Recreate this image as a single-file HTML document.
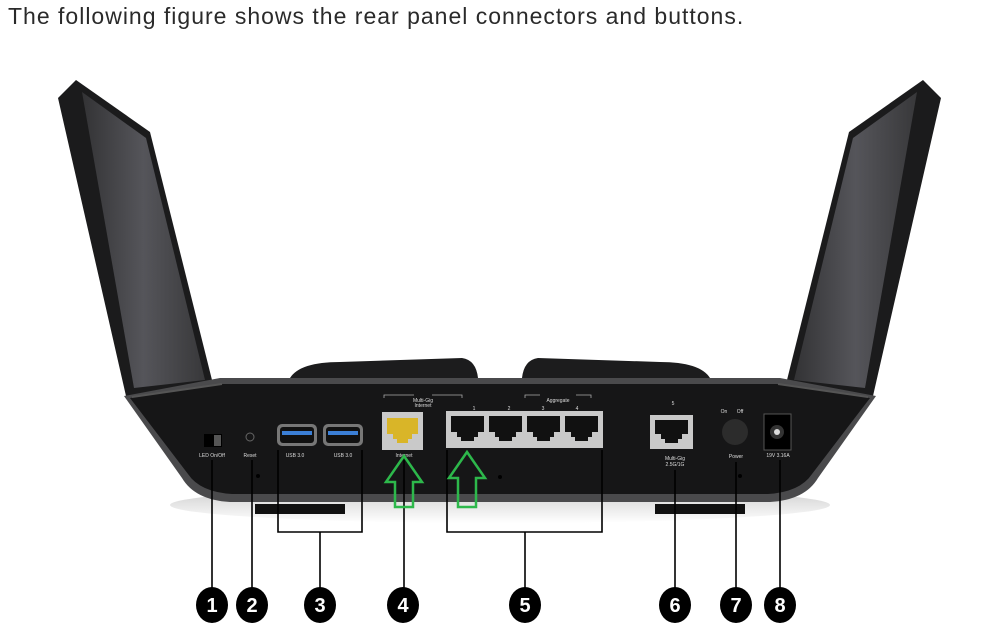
<!DOCTYPE html>
<html><head><meta charset="utf-8"><style>
html,body{margin:0;padding:0;background:#fff;}
body{width:999px;height:637px;overflow:hidden;position:relative;font-family:"Liberation Sans",sans-serif;}
.t{position:absolute;left:8px;top:3px;font-size:23px;letter-spacing:1.0px;color:#2a2a2a;white-space:nowrap;}
svg{position:absolute;left:0;top:0;}
</style></head><body>
<div class="t">The following figure shows the rear panel connectors and buttons.</div>
<svg width="999" height="637" viewBox="0 0 999 637">
<defs>
<linearGradient id="ant" x1="0" y1="0" x2="1" y2="0">
<stop offset="0" stop-color="#333335"/><stop offset="0.5" stop-color="#55555a"/><stop offset="1" stop-color="#38383a"/>
</linearGradient>
<linearGradient id="shadow" x1="0" y1="0" x2="0" y2="1">
<stop offset="0" stop-color="#999"/><stop offset="1" stop-color="#fff"/>
</linearGradient>
</defs>
<ellipse cx="500" cy="505" rx="330" ry="18" fill="url(#shadow)" opacity="0.5"/>
<polygon points="58,98 76,80 150,132 214,388 126,396" fill="#1b1b1c"/>
<polygon points="82,92 146,138 205,380 134,388" fill="url(#ant)"/>
<polygon points="941,98 923,80 849,132 785,388 873,396" fill="#1b1b1c"/>
<polygon points="917,92 853,138 794,380 865,388" fill="url(#ant)"/>
<path d="M290,378 Q300,362 340,362 L462,358 Q476,360 478,378 Z" fill="#1c1c1d"/>
<path d="M522,378 Q524,360 538,358 L660,362 Q700,362 710,378 Z" fill="#1c1c1d"/>
<path d="M124,396 L220,378 L780,378 L876,396 L818,478 Q805,500 770,502 L230,502 Q195,500 182,478 Z" fill="#4a4a4c"/>
<path d="M130,398 L222,384 L778,384 L870,398 L812,474 Q800,492 768,494 L232,494 Q200,492 188,474 Z" fill="#161617"/>
<line x1="132" y1="397" x2="222" y2="384" stroke="#555" stroke-width="2"/>
<line x1="868" y1="397" x2="778" y2="384" stroke="#555" stroke-width="2"/>
<rect x="255" y="504" width="90" height="10" fill="#111"/>
<rect x="655" y="504" width="90" height="10" fill="#111"/>
<rect x="204" y="434" width="18" height="13" fill="#000"/><rect x="214" y="435" width="7" height="11" fill="#555"/>
<circle cx="250" cy="437" r="4" fill="none" stroke="#666" stroke-width="1"/>
<g><rect x="277" y="424" width="40" height="22" rx="5" fill="#777"/><rect x="280" y="427" width="34" height="16" rx="3" fill="#111"/><rect x="282" y="431" width="30" height="4" fill="#3b7fd6"/></g>
<g><rect x="323" y="424" width="40" height="22" rx="5" fill="#777"/><rect x="326" y="427" width="34" height="16" rx="3" fill="#111"/><rect x="328" y="431" width="30" height="4" fill="#3b7fd6"/></g>
<rect x="382" y="412" width="41" height="38" fill="#c9c9c9"/>
<path d="M387,418 h31 v16 h-6 v5 h-4 v4 h-11 v-4 h-4 v-5 h-6 Z" fill="#d9b528"/>
<rect x="446" y="411" width="157" height="37" fill="#c9c9c9"/>
<g fill="#111">
<path d="M451,416 h33 v16 h-6 v5 h-4 v4 h-13 v-4 h-4 v-5 h-6 Z"/>
<path d="M489,416 h33 v16 h-6 v5 h-4 v4 h-13 v-4 h-4 v-5 h-6 Z"/>
<path d="M527,416 h33 v16 h-6 v5 h-4 v4 h-13 v-4 h-4 v-5 h-6 Z"/>
<path d="M565,416 h33 v16 h-6 v5 h-4 v4 h-13 v-4 h-4 v-5 h-6 Z"/>
</g>
<rect x="650" y="415" width="43" height="34" fill="#c9c9c9"/>
<path d="M655,420 h33 v14 h-6 v5 h-4 v4 h-13 v-4 h-4 v-5 h-6 Z" fill="#111"/>
<circle cx="735" cy="432" r="13" fill="#2c2c2c"/>
<rect x="764" y="414" width="27" height="36" fill="#000" stroke="#555"/>
<circle cx="777" cy="432" r="7" fill="#333"/><circle cx="777" cy="432" r="3" fill="#ddd"/>
<circle cx="258" cy="476" r="2" fill="#000"/><circle cx="500" cy="477" r="2" fill="#000"/><circle cx="740" cy="476" r="2" fill="#000"/>
<g fill="#ddd" font-size="5" font-family="Liberation Sans,sans-serif" text-anchor="middle">
<text x="212" y="457">LED On/Off</text><text x="250" y="457">Reset</text>
<text x="295" y="457">USB 3.0</text><text x="343" y="457">USB 3.0</text>
<text x="404" y="457">Internet</text>
<text x="423" y="402">Multi-Gig</text><text x="423" y="407">Internet</text>
<text x="558" y="402">Aggregate</text>
<text x="474" y="410">1</text><text x="509" y="410">2</text><text x="543" y="410">3</text><text x="577" y="410">4</text>
<text x="673" y="405">5</text>
<text x="675" y="460">Multi-Gig</text><text x="675" y="466">2.5G/1G</text>
<text x="736" y="458">Power</text><text x="724" y="413">On</text><text x="740" y="413">Off</text>
<text x="778" y="457">19V 3.16A</text>
</g>
<g stroke="#aaa" stroke-width="0.8" fill="none">
<path d="M384,398 v-3 h30 M432,395 h30 v3"/><path d="M525,398 v-3 h15 M576,395 h15 v3"/>
</g>
<g stroke="#000" stroke-width="1.6" fill="none">
<line x1="212" y1="460" x2="212" y2="588"/>
<line x1="252" y1="460" x2="252" y2="588"/>
<path d="M278,450 V532 H362 V450"/><line x1="320" y1="532" x2="320" y2="588"/>
<line x1="404" y1="460" x2="404" y2="588"/>
<path d="M447,450 V532 H602 V450"/><line x1="525" y1="532" x2="525" y2="588"/>
<line x1="675" y1="470" x2="675" y2="588"/>
<line x1="736" y1="462" x2="736" y2="588"/>
<line x1="780" y1="460" x2="780" y2="588"/>
</g>
<g stroke="#2db84b" stroke-width="2.5" fill="none">
<path d="M404,456 L422,482 H413 V507 H395 V482 H386 Z"/>
<path d="M467,452 L485,478 H476 V507 H458 V478 H449 Z"/>
</g>
<g fill="#000"><ellipse cx="212" cy="605" rx="16" ry="18"/><ellipse cx="252" cy="605" rx="16" ry="18"/><ellipse cx="320" cy="605" rx="16" ry="18"/><ellipse cx="403" cy="605" rx="16" ry="18"/><ellipse cx="525" cy="605" rx="16" ry="18"/><ellipse cx="675" cy="605" rx="16" ry="18"/><ellipse cx="736" cy="605" rx="16" ry="18"/><ellipse cx="780" cy="605" rx="16" ry="18"/></g>
<g fill="#fff" font-size="20" font-weight="bold" font-family="Liberation Sans,sans-serif" text-anchor="middle">
<text x="212" y="612">1</text><text x="252" y="612">2</text><text x="320" y="612">3</text><text x="403" y="612">4</text><text x="525" y="612">5</text><text x="675" y="612">6</text><text x="736" y="612">7</text><text x="780" y="612">8</text>
</g>
</svg>
</body></html>
